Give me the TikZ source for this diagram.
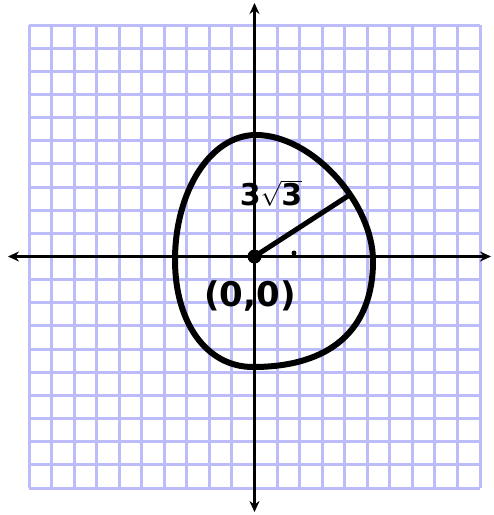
\documentclass[tikz,border=0pt]{standalone}
\usepackage{fontspec}
\setmainfont{DejaVu Sans}
\usetikzlibrary{arrows.meta}
\definecolor{gridlav}{RGB}{188,188,250}
\tikzset{
  gridline/.style={draw=gridlav, line width=3pt},
  axisline/.style={draw=black, line width=3pt, -{Stealth[length=11pt,width=10pt]}},
  curveline/.style={draw=black, line width=6pt, line cap=round, line join=round},
  handtext/.style={inner sep=0pt, text=black}
}
\begin{document}
\begin{tikzpicture}[x=1pt,y=-1pt]
\useasboundingbox (0,0) rectangle (494,515);
% grid
\foreach \i in {0,...,20}{
  \draw[gridline] ({29+\i*22.55},25) -- ({29+\i*22.55},488);
  \draw[gridline] (29,{25+\i*23.15}) -- (480,{25+\i*23.15});
}
% axes
\coordinate (O) at (254.5,256.5);
\coordinate (xl) at (8,256.5);
\coordinate (xr) at (491,256.5);
\coordinate (yt) at (254.5,3);
\coordinate (yb) at (254.5,512);
\draw[axisline] (O) -- (xl);
\draw[axisline] (O) -- (xr);
\draw[axisline] (O) -- (yt);
\draw[axisline] (O) -- (yb);
% egg-shaped circle
\coordinate (ct) at (256,135);
\coordinate (cr) at (373,261);
\coordinate (cb) at (253,367);
\coordinate (cl) at (175,260);
\draw[curveline] (ct) .. controls (312,135) and (373,203) .. (cr)
  .. controls (373,330) and (330,367) .. (cb)
  .. controls (206,367) and (175,322) .. (cl)
  .. controls (175,192) and (210,135) .. (ct) -- cycle;
% radius
\coordinate (R) at (348,196);
\draw[black, line width=5pt, line cap=round] (O) -- (R);
\fill[black] (O) circle (7);
\fill[black] (294,253) circle (2.5);
% labels
\node[handtext, font=\bfseries\fontsize{30}{32}\selectfont] (lbl) at (271,193) {3$\sqrt{\mathbf{3}}$};
\node[handtext, font=\bfseries\fontsize{34}{36}\selectfont] (org) at (250,296) {(0,0)};
\end{tikzpicture}
\end{document}
